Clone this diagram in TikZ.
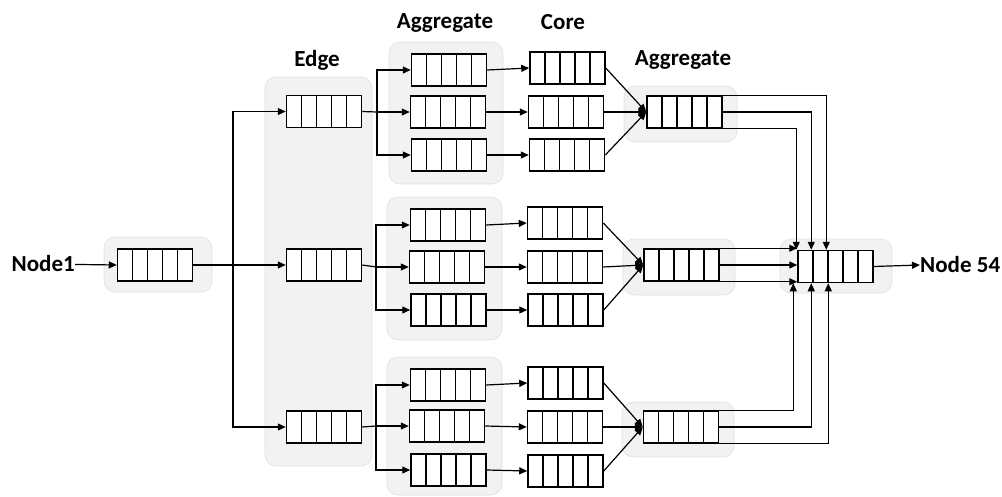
\documentclass[tikz,border=0pt]{standalone}
\usepackage{fontspec}
\setmainfont{Carlito}
\usetikzlibrary{calc,arrows.meta}

\tikzset{
  queue/.style={draw, line width=1.5pt, fill=white, minimum width=75pt,
    minimum height=32pt, inner sep=0pt,
    path picture={
      \foreach \i in {1,...,4}{
        \draw[line width=1.5pt]
          ($(path picture bounding box.south west)!\i/5!(path picture bounding box.south east)$) --
          ($(path picture bounding box.north west)!\i/5!(path picture bounding box.north east)$);
      }}},
  group/.style={draw=black!12, line width=0.6pt, fill=black!5, rounded corners=11pt},
  lbl/.style={font=\bfseries\fontsize{23}{27}\selectfont, inner sep=0pt},
  arr/.style={line width=1.2pt, -{Triangle[length=8pt,width=7pt]}},
  ln/.style={line width=1.2pt},
}

\begin{document}
\begin{tikzpicture}[x=1pt,y=-1pt]
\useasboundingbox (0,0) rectangle (1002,496);

% grey groupings
\draw[group] (104,237) rectangle (212,292);
\draw[group] (265,77) rectangle (372,466);
\draw[group] (389,42) rectangle (503,184);
\draw[group] (387,197) rectangle (502,340);
\draw[group] (387,357) rectangle (502,495);
\draw[group] (624,86) rectangle (737,142);
\draw[group] (623,239) rectangle (735,295);
\draw[group] (622,402) rectangle (734,457);
\draw[group] (780,239) rectangle (892,293);

% column titles
\node[lbl] (tedge) at (317,60) {Edge};
\node[lbl] (tagg1) at (445,23) {Aggregate};
\node[lbl] (tcore) at (563,22) {Core};
\node[lbl] (tagg2) at (683,60) {Aggregate};

% queues
\node[queue] (q0) at (155,265) {};

\node[queue] (e1) at (324,111.5) {};
\node[queue] (e2) at (324,265) {};
\node[queue] (e3) at (324,427) {};

\node[queue] (a11) at (449,70) {};
\node[queue] (a12) at (448,112) {};
\node[queue] (a13) at (449,155) {};
\node[queue] (a21) at (448,225) {};
\node[queue] (a22) at (447,267) {};
\node[queue] (a23) at (448.5,310) {};
\node[queue] (a31) at (448,385) {};
\node[queue] (a32) at (447,426) {};
\node[queue] (a33) at (448.5,470) {};

\node[queue] (k11) at (567.5,68) {};
\node[queue] (k12) at (566,112) {};
\node[queue] (k13) at (567,155) {};
\node[queue] (k21) at (565,223) {};
\node[queue] (k22) at (565,267) {};
\node[queue] (k23) at (565.5,310) {};
\node[queue] (k31) at (565.5,383) {};
\node[queue] (k32) at (565,427) {};
\node[queue] (k33) at (565.5,471) {};

\node[queue] (r1) at (684.5,112) {};
\node[queue] (r2) at (681.5,265) {};
\node[queue] (r3) at (681,427) {};

\node[queue] (f) at (835.5,266.5) {};

% end points
\node[lbl, anchor=east] (src) at (75,264) {Node1};
\node[lbl, anchor=west] (dst) at (920,265) {Node 54};

% source into the edge layer
\coordinate (s0) at (233,265);
\draw[arr] (src) -- (q0.west);
\draw[arr] (q0.east) -- (e2.west);
\draw[arr] (s0) |- (e1.west);
\draw[arr] (s0) |- (e3.west);

% edge layer fan-out
\coordinate (s1) at (377,112);
\coordinate (s2) at (376,267);
\coordinate (s3) at (376,426);
\draw[ln] (e1.east) -- (s1);
\draw[ln] (e2.east) -- (s2);
\draw[ln] (e3.east) -- (s3);
\draw[arr] (s1) |- (a11.west);
\draw[arr] (s1) -- (a12.west);
\draw[arr] (s1) |- (a13.west);
\draw[arr] (s2) |- (a21.west);
\draw[arr] (s2) -- (a22.west);
\draw[arr] (s2) |- (a23.west);
\draw[arr] (s3) |- (a31.west);
\draw[arr] (s3) -- (a32.west);
\draw[arr] (s3) |- (a33.west);

% aggregate to core
\draw[arr] (a11.east) -- (k11.west);
\draw[arr] (a12.east) -- (k12.west);
\draw[arr] (a13.east) -- (k13.west);
\draw[arr] (a21.east) -- (k21.west);
\draw[arr] (a22.east) -- (k22.west);
\draw[arr] (a23.east) -- (k23.west);
\draw[arr] (a31.east) -- (k31.west);
\draw[arr] (a32.east) -- (k32.west);
\draw[arr] (a33.east) -- (k33.west);

% core to aggregate
\draw[arr] (k11.east) -- (r1.west);
\draw[arr] (k12.east) -- (r1.west);
\draw[arr] (k13.east) -- (r1.west);
\draw[arr] (k21.east) -- (r2.west);
\draw[arr] (k22.east) -- (r2.west);
\draw[arr] (k23.east) -- (r2.west);
\draw[arr] (k31.east) -- (r3.west);
\draw[arr] (k32.east) -- (r3.west);
\draw[arr] (k33.east) -- (r3.west);

% aggregate layer into the destination
\draw[arr] (r1.north east) -| ([xshift=29pt]f.north west);
\draw[arr] (r1.east) -| ([xshift=14pt]f.north west);
\draw[arr] (r1.south east) -| ([xshift=-1pt]f.north west);
\draw[arr] (r2.north east) -- (r2.north east -| f.west);
\draw[arr] (r2.east) -- (r2.east -| f.west);
\draw[arr] (r2.south east) -- (r2.south east -| f.west);
\draw[arr] (r3.north east) -| ([xshift=-4pt]f.south west);
\draw[arr] (r3.east) -| ([xshift=14pt]f.south west);
\draw[arr] (r3.south east) -| ([xshift=31pt]f.south west);

\draw[arr] (f.east) -- (dst.west);
\end{tikzpicture}
\end{document}
